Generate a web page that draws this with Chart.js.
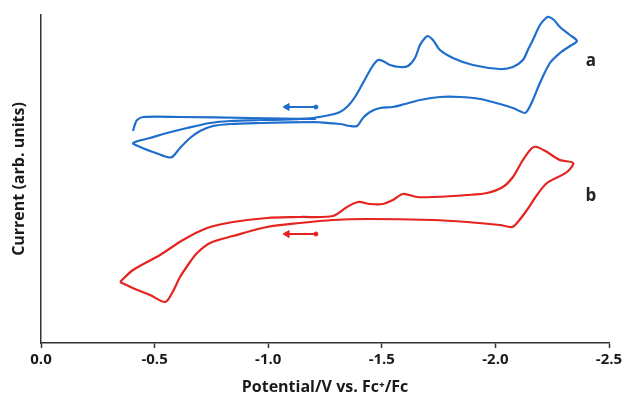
<!DOCTYPE html>
<html>
<head>
<meta charset="utf-8">
<script src="https://cdn.jsdelivr.net/npm/chart.js@4.4.1/dist/chart.umd.min.js"></script>
<style>
  html, body { margin: 0; padding: 0; background: #fff; }
</style>
</head>
<body>
<canvas id="canvas" width="627" height="406"></canvas>
<script>
// x: potential (V vs Fc+/Fc), y: current (arb. units)
var xTicks = [0.0, -0.5, -1.0, -1.5, -2.0, -2.5];

// curve a (blue) - main cycle, then a gap (null), then the short first sweep
var potA = [-1.210, -0.964, -0.832, -0.757, -0.700, -0.656, -0.612, -0.577, -0.555, -0.493, -0.436, -0.405,
            -0.480, -0.555, -0.643, -0.744, -0.832, -0.964, -1.096, -1.197, -1.272, -1.316, -1.351, -1.382,
            -1.417, -1.457, -1.483, -1.505, -1.536, -1.580, -1.615, -1.646, -1.668, -1.690, -1.703, -1.725,
            -1.756, -1.813, -1.901, -2.020, -2.077, -2.121, -2.143, -2.165, -2.196, -2.223, -2.236, -2.258,
            -2.284, -2.328, -2.359, -2.328, -2.284, -2.240, -2.196, -2.165, -2.143, -2.130, -2.077, -2.020,
            -1.932, -1.844, -1.756, -1.668, -1.602, -1.549, -1.492, -1.448, -1.417, -1.391, -1.360, -1.316,
            -1.210, -1.210,
            -1.210, -0.920, -0.612, -0.449, -0.423, -0.414, -0.405];
var curA = [22.1, 22.0, 21.9, 21.7, 21.2, 20.5, 19.5, 18.6, 18.6, 19.1, 19.6, 20.0,
            20.5, 21.0, 21.5, 22.0, 22.2, 22.3, 22.35, 22.5, 22.8, 23.1, 23.7, 24.6,
            26.0, 27.6, 28.3, 28.2, 27.8, 27.6, 27.7, 28.5, 29.8, 30.5, 30.7, 30.3,
            29.3, 28.5, 27.8, 27.4, 27.6, 28.3, 29.3, 30.3, 31.8, 32.5, 32.6, 32.3,
            31.6, 30.8, 30.2, 29.7, 29.0, 28.0, 26.0, 24.3, 23.3, 23.0, 23.5, 23.9,
            24.4, 24.6, 24.6, 24.3, 23.9, 23.6, 23.5, 23.1, 22.5, 21.7, 21.7, 21.9,
            22.1, null,
            22.4, 22.5, 22.6, 22.6, 22.3, 21.9, 21.2];

// curve b (red)
var potB = [-0.348, -0.405, -0.524, -0.625, -0.731, -0.845, -0.995, -1.140, -1.285, -1.347, -1.395, -1.448,
            -1.505, -1.549, -1.593, -1.655, -1.725, -1.875, -1.963, -2.033, -2.077, -2.121, -2.161, -2.183,
            -2.227, -2.284, -2.342, -2.315, -2.227, -2.183, -2.139, -2.095, -2.073, -2.020, -1.875, -1.725,
            -1.435, -1.285, -1.140, -0.995, -0.845, -0.744, -0.687, -0.656, -0.612, -0.577, -0.546, -0.480,
            -0.414, -0.348];
var curB = [6.1, 7.3, 8.8, 10.3, 11.5, 12.1, 12.5, 12.6, 12.7, 13.6, 14.1, 13.9,
            13.9, 14.3, 14.9, 14.6, 14.6, 14.8, 15.0, 15.6, 16.6, 18.3, 19.5, 19.6,
            19.1, 18.3, 18.0, 17.1, 16.0, 14.8, 13.3, 12.0, 11.6, 11.8, 12.1, 12.3,
            12.4, 12.3, 12.0, 11.6, 10.7, 10.0, 9.0, 8.1, 6.6, 5.0, 4.1, 4.8,
            5.4, 6.1];

// scan direction arrows (tip, start)
var arrowPot = [-1.083, -1.210];
var arrowCurA = [23.6, 23.6];
var arrowCurB = [10.9, 10.9];

var blue = '#1f6ecb';
var red = '#e5231f';
var axisColor = '#333333';
var fontFam = "'Open Sans', 'Noto Sans', sans-serif";

function pts(xs, ys) {
  return xs.map(function (x, i) { return { x: x, y: ys[i] }; });
}

function arrowSet(ys, color) {
  return {
    data: pts(arrowPot, ys),
    borderColor: color,
    backgroundColor: color,
    borderWidth: 2,
    pointStyle: ['triangle', 'circle'],
    rotation: [-90, 0],
    pointRadius: [4, 2],
    pointBorderWidth: 1,
    tension: 0
  };
}

var curveLabels = {
  id: 'curveLabels',
  afterDatasetsDraw: function (chart) {
    var ctx = chart.ctx;
    var xs = chart.scales.x, ys = chart.scales.y;
    ctx.save();
    ctx.fillStyle = '#222';
    ctx.font = "bold 17px " + fontFam;
    ctx.textAlign = 'center';
    ctx.textBaseline = 'middle';
    ctx.fillText('a', xs.getPixelForValue(-2.42), ys.getPixelForValue(28.2));
    ctx.fillText('b', xs.getPixelForValue(-2.42), ys.getPixelForValue(14.7));
    ctx.restore();
  }
};

var config = {
  type: 'line',
  data: {
    datasets: [{
      data: pts(potA, curA),
      borderColor: blue,
      borderWidth: 2.2,
      pointRadius: 0,
      tension: 0.3,
      spanGaps: false
    }, {
      data: pts(potB, curB),
      borderColor: red,
      borderWidth: 2.2,
      pointRadius: 0,
      tension: 0.3
    },
    arrowSet(arrowCurA, blue),
    arrowSet(arrowCurB, red)
    ]
  },
  options: {
    responsive: false,
    devicePixelRatio: 1,
    animation: false,
    layout: { padding: { top: 15, right: 18, bottom: 5, left: 6 } },
    plugins: { legend: { display: false }, tooltip: { enabled: false } },
    scales: {
      x: {
        type: 'linear',
        min: -2.5,
        max: 0,
        reverse: true,
        afterBuildTicks: function (s) { s.ticks = xTicks.map(function (v) { return { value: v }; }); },
        afterFit: function (s) { s.height = 58; },
        ticks: {
          color: '#1a1a1a',
          font: { family: fontFam, size: 15, weight: 'bold' },
          maxRotation: 0,
          callback: function (v) { return Number(v).toFixed(1); }
        },
        grid: { display: true, drawOnChartArea: false, tickLength: 5, tickColor: axisColor, tickWidth: 1.5 },
        border: { display: true, color: axisColor, width: 1.5 },
        title: {
          display: true,
          text: 'Potential/V vs. Fc\u207A/Fc',
          color: '#1a1a1a',
          font: { family: fontFam, size: 16, weight: 'bold' }
        }
      },
      y: {
        min: 0,
        max: 32.8,
        afterFit: function (s) { s.width = 35; },
        ticks: { display: false },
        grid: { display: false },
        border: { display: true, color: axisColor, width: 1.5 },
        title: {
          display: true,
          text: 'Current (arb. units)',
          color: '#1a1a1a',
          font: { family: fontFam, size: 16, weight: 'bold' }
        }
      }
    }
  },
  plugins: [curveLabels]
};

window.onload = function () {
  window.cvChart = new Chart(document.getElementById('canvas'), config);
};
</script>
</body>
</html>
